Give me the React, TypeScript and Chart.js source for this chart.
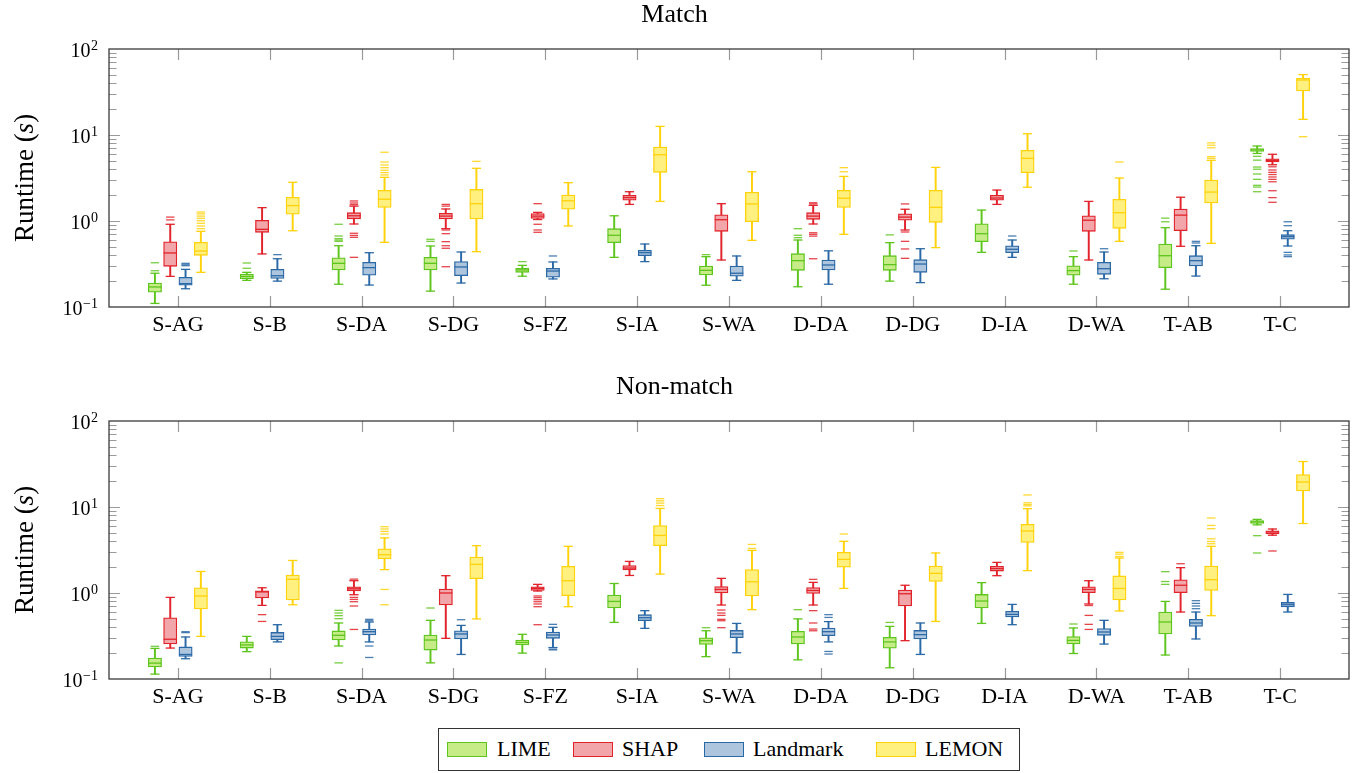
import React, { useEffect, useRef } from 'react';
import { Chart, registerables } from 'chart.js';

Chart.register(...registerables);

const FONT = "'Liberation Serif', 'Times New Roman', serif";

const categories = ['S-AG', 'S-B', 'S-DA', 'S-DG', 'S-FZ', 'S-IA', 'S-WA', 'D-DA', 'D-DG', 'D-IA', 'D-WA', 'T-AB', 'T-C'];
const seriesNames = ['LIME', 'SHAP', 'Landmark', 'LEMON'];
const lineColors = ['#5ec51e', '#e1232b', '#2b69a6', '#ffd20a'];
const fillColors = ['#c5ec87', '#f2a6a9', '#adc6de', '#fff07f'];
const yTickValues = [0.1, 1, 10, 100];

// Box statistics per category: [lower whisker, Q1, median, Q3, upper whisker]
const matchLime = [
  [0.110, 0.149, 0.171, 0.190, 0.247], [0.204, 0.213, 0.227, 0.242, 0.253], [0.184, 0.27, 0.322, 0.374, 0.516],
  [0.153, 0.27, 0.322, 0.378, 0.512], [0.228, 0.253, 0.27, 0.282, 0.305], [0.378, 0.56, 0.682, 0.814, 1.15],
  [0.179, 0.236, 0.267, 0.30, 0.385], [0.172, 0.267, 0.346, 0.417, 0.601], [0.20, 0.267, 0.311, 0.395, 0.56],
  [0.432, 0.575, 0.712, 0.93, 1.34], [0.184, 0.234, 0.265, 0.302, 0.385], [0.161, 0.287, 0.395, 0.54, 0.836],
  [6.1, 6.45, 6.7, 6.93, 7.45],
];
const matchLimeOutliers = [
  [0.264, 0.327], [0.282, 0.325], [0.58, 0.60, 0.623, 0.669, 0.916], [0.58, 0.613], [0.337], [], [0.406],
  [0.64, 0.682, 0.814], [0.69], [], [0.448], [0.98, 1.08],
  [2.19, 2.48, 2.6, 3.05, 3.52, 4.0, 4.24, 5.1, 5.65],
];
const matchShap = [
  [0.227, 0.297, 0.425, 0.574, 0.916], [0.414, 0.739, 0.80, 1.02, 1.43], [0.923, 1.06, 1.15, 1.25, 1.49],
  [0.814, 1.055, 1.14, 1.23, 1.38], [1.04, 1.07, 1.14, 1.22, 1.26], [1.56, 1.75, 1.87, 1.99, 2.19],
  [0.352, 0.759, 1.035, 1.18, 1.59], [0.923, 1.046, 1.14, 1.25, 1.52], [0.786, 1.02, 1.11, 1.21, 1.37],
  [1.56, 1.75, 1.85, 1.99, 2.29], [0.352, 0.759, 1.02, 1.15, 1.69], [0.508, 0.771, 1.17, 1.38, 1.89],
  [4.51, 4.85, 5.07, 5.3, 5.97],
];
const matchShapOutliers = [
  [1.03, 1.11], [], [0.378, 0.646, 0.68, 0.72, 1.55, 1.62, 1.71],
  [0.294, 0.482, 0.516, 0.575, 0.712, 0.786, 1.49, 1.56], [0.739, 0.786, 0.916, 1.59], [], [],
  [0.364, 0.667, 0.70, 0.73, 1.58, 1.63], [0.368, 0.473, 0.58, 0.745, 1.58], [], [], [],
  [1.65, 1.87, 2.25, 2.86, 3.05, 3.25, 3.47, 3.68, 3.92, 4.27],
];
const matchLandmark = [
  [0.163, 0.179, 0.187, 0.221, 0.274], [0.20, 0.215, 0.231, 0.274, 0.364], [0.18, 0.234, 0.287, 0.331, 0.428],
  [0.19, 0.231, 0.292, 0.337, 0.436], [0.212, 0.222, 0.262, 0.282, 0.334], [0.337, 0.395, 0.428, 0.456, 0.54],
  [0.204, 0.228, 0.247, 0.30, 0.392], [0.184, 0.27, 0.308, 0.352, 0.45], [0.192, 0.253, 0.316, 0.355, 0.476],
  [0.378, 0.428, 0.469, 0.516, 0.601], [0.213, 0.24, 0.279, 0.331, 0.436], [0.229, 0.30, 0.346, 0.395, 0.516],
  [0.512, 0.613, 0.657, 0.693, 0.771],
];
const matchLandmarkOutliers = [
  [0.302, 0.31, 0.322], [0.406], [], [], [0.392], [], [], [], [], [0.669], [0.476], [0.555, 0.58],
  [0.385, 0.403, 0.432, 0.882, 0.98],
];
const matchLemon = [
  [0.253, 0.399, 0.448, 0.565, 0.759], [0.77, 1.2, 1.51, 1.89, 2.82], [0.565, 1.44, 1.79, 2.27, 3.22],
  [0.44, 1.055, 1.59, 2.33, 4.1], [0.875, 1.37, 1.72, 2.0, 2.79], [1.69, 3.68, 5.9, 7.25, 12.6],
  [0.596, 0.98, 1.58, 2.16, 3.74], [0.70, 1.44, 1.84, 2.27, 3.3], [0.49, 0.965, 1.44, 2.27, 4.2],
  [2.47, 3.65, 5.35, 6.64, 10.35], [0.58, 0.822, 1.25, 1.79, 3.16], [0.55, 1.62, 2.17, 3.0, 5.08],
  [15.2, 32.6, 43.6, 45.7, 50.4],
];
const matchLemonOutliers = [
  [0.814, 0.875, 0.94, 1.008, 1.075, 1.14, 1.21, 1.27], [], [3.43, 3.65, 3.89, 4.17, 4.48, 4.85, 6.3], [4.94],
  [], [], [], [3.74, 4.17], [], [], [4.85], [5.35, 5.6, 7.1, 7.6, 8.1], [9.56],
];

const nonMatchLime = [
  [0.114, 0.138, 0.153, 0.175, 0.227], [0.208, 0.229, 0.249, 0.27, 0.313], [0.242, 0.284, 0.322, 0.362, 0.448],
  [0.154, 0.217, 0.284, 0.325, 0.481], [0.20, 0.249, 0.266, 0.284, 0.331], [0.455, 0.669, 0.798, 0.948, 1.29],
  [0.182, 0.252, 0.279, 0.302, 0.364], [0.167, 0.255, 0.308, 0.358, 0.50], [0.135, 0.228, 0.27, 0.305, 0.409],
  [0.443, 0.669, 0.807, 0.963, 1.32], [0.198, 0.255, 0.281, 0.311, 0.392], [0.19, 0.334, 0.46, 0.601, 0.798],
  [6.2, 6.43, 6.7, 6.93, 7.18],
];
const nonMatchLimeOutliers = [
  [0.24], [], [0.154, 0.503, 0.545, 0.585, 0.628], [0.669], [], [], [0.395], [0.64], [0.455], [], [0.436],
  [1.26, 1.36, 1.77], [2.92, 4.64],
];
const nonMatchShap = [
  [0.229, 0.255, 0.29, 0.516, 0.889], [0.718, 0.875, 1.03, 1.06, 1.15], [0.955, 1.06, 1.12, 1.18, 1.39],
  [0.297, 0.725, 1.0, 1.11, 1.59], [1.055, 1.07, 1.13, 1.18, 1.26], [1.6, 1.85, 1.95, 2.08, 2.33],
  [0.725, 1.0, 1.1, 1.19, 1.48], [0.725, 0.989, 1.07, 1.16, 1.33], [0.279, 0.706, 0.98, 1.08, 1.23],
  [1.59, 1.8, 1.92, 2.04, 2.27], [0.745, 1.01, 1.1, 1.18, 1.39], [0.601, 1.01, 1.23, 1.42, 1.97],
  [4.7, 4.85, 5.12, 5.3, 5.55],
];
const nonMatchShapOutliers = [
  [], [0.467, 0.56], [0.377, 0.706, 0.792, 0.842, 0.889, 1.45], [],
  [0.428, 0.693, 0.745, 0.792, 0.836, 0.882, 0.923], [], [0.395, 0.476, 0.494, 0.549, 0.585, 0.634],
  [0.364, 0.381, 0.448, 0.623, 1.44], [], [], [0.377, 0.432, 0.549, 0.715], [2.19], [3.08],
];
const nonMatchLandmark = [
  [0.172, 0.183, 0.193, 0.236, 0.308], [0.27, 0.287, 0.313, 0.348, 0.428], [0.27, 0.325, 0.355, 0.381, 0.46],
  [0.193, 0.292, 0.334, 0.364, 0.42], [0.232, 0.297, 0.325, 0.352, 0.399], [0.388, 0.476, 0.516, 0.56, 0.623],
  [0.202, 0.302, 0.334, 0.367, 0.443], [0.27, 0.319, 0.355, 0.392, 0.465], [0.193, 0.292, 0.328, 0.367, 0.448],
  [0.428, 0.526, 0.564, 0.612, 0.737], [0.255, 0.322, 0.352, 0.385, 0.481], [0.292, 0.409, 0.448, 0.494, 0.601],
  [0.601, 0.688, 0.731, 0.777, 0.963],
];
const nonMatchLandmarkOutliers = [
  [0.346, 0.355], [], [0.178, 0.242, 0.476, 0.494], [0.489], [0.218, 0.222, 0.432], [], [],
  [0.195, 0.209, 0.52, 0.56], [], [], [], [0.657, 0.706, 0.757, 0.814], [],
];
const nonMatchLemon = [
  [0.313, 0.652, 0.923, 1.15, 1.78], [0.73, 0.829, 1.44, 1.62, 2.39], [1.87, 2.5, 2.79, 3.27, 4.37],
  [0.5, 1.47, 2.15, 2.62, 3.55], [0.693, 0.93, 1.39, 2.04, 3.49], [1.66, 3.55, 4.67, 6.1, 9.63],
  [0.64, 0.923, 1.35, 1.87, 3.13], [1.13, 2.0, 2.46, 2.97, 3.99], [0.467, 1.36, 1.69, 2.06, 2.92],
  [1.82, 3.88, 5.26, 6.28, 9.56], [0.618, 0.829, 1.13, 1.58, 2.55], [0.545, 1.07, 1.43, 2.06, 3.49],
  [6.43, 15.4, 19.5, 23.9, 33.8],
];
const nonMatchLemonOutliers = [
  [], [], [0.73, 1.1, 4.85, 5.2, 5.55, 5.9], [], [], [10.4, 11.1, 11.8, 12.5], [3.3, 3.67], [4.85], [],
  [10.3, 10.7, 11.2, 13.8], [2.66, 2.83, 2.97], [3.74, 3.97, 4.27, 5.6, 6.1, 7.45], [],
];

// Horizontal spacing of the four boxes inside one category (in category units)
const SLOT = 1 / 6;

function buildDatasets(stats: number[][][], outliers: number[][][]) {
  const ds: any[] = [];
  stats.forEach((series, s) => {
    const off = (s - 1.5) * SLOT;
    const line = lineColors[s];
    const fill = fillColors[s];
    const pointCommon = {
      type: 'scatter',
      pointStyle: 'line',
      borderColor: line,
      pointBorderColor: line,
      pointBorderWidth: 1.3,
      pointHoverBorderWidth: 1.3,
      order: 1,
    };
    ds.push({
      type: 'bar',
      label: seriesNames[s] + ' whiskers',
      data: series.map((b, i) => ({ x: i + off, y: [b[0], b[4]] })),
      backgroundColor: line,
      borderWidth: 0,
      barThickness: 1.3,
      grouped: false,
      order: 3,
    });
    ds.push({
      type: 'bar',
      label: seriesNames[s],
      data: series.map((b, i) => ({ x: i + off, y: [b[1], b[3]] })),
      backgroundColor: fill,
      borderColor: line,
      borderWidth: 1.3,
      borderSkipped: false,
      barThickness: 13.3,
      grouped: false,
      order: 2,
    });
    ds.push({
      ...pointCommon,
      label: seriesNames[s] + ' median',
      data: series.map((b, i) => ({ x: i + off, y: b[2] })),
      pointRadius: 6.6,
      pointHoverRadius: 6.6,
    });
    ds.push({
      ...pointCommon,
      label: seriesNames[s] + ' caps',
      data: series.flatMap((b, i) => [{ x: i + off, y: b[0] }, { x: i + off, y: b[4] }]),
      pointRadius: 4.6,
      pointHoverRadius: 4.6,
    });
    ds.push({
      ...pointCommon,
      label: seriesNames[s] + ' outliers',
      data: outliers[s].flatMap((o, i) => o.map((v) => ({ x: i + off, y: v }))),
      pointRadius: 4.2,
      pointHoverRadius: 4.2,
      pointBorderColor: line + 'd9',
      borderColor: line + 'd9',
    });
  });
  return ds;
}

// pgfplots-style frame with inward ticks on all four sides
const frameTicks = {
  id: 'frameTicks',
  beforeDatasetsDraw(chart: any) {
    const { ctx, chartArea: a, scales } = chart;
    const x = scales.x;
    const y = scales.y;
    ctx.save();
    ctx.strokeStyle = '#9a9a9a';
    ctx.lineWidth = 1.2;
    ctx.beginPath();
    categories.forEach((_, i) => {
      const px = Math.round(x.getPixelForValue(i)) + 0.5;
      ctx.moveTo(px, a.top);
      ctx.lineTo(px, a.top + 11);
      ctx.moveTo(px, a.bottom);
      ctx.lineTo(px, a.bottom - 11);
    });
    [0.1, 1, 10].forEach((d) => {
      for (let k = 1; k <= 9; k++) {
        const v = k * d;
        if (v <= y.min) continue;
        const py = Math.round(y.getPixelForValue(v)) + 0.5;
        const len = k === 1 ? 11 : 7.5;
        ctx.moveTo(a.left, py);
        ctx.lineTo(a.left + len, py);
        ctx.moveTo(a.right, py);
        ctx.lineTo(a.right - len, py);
      }
    });
    ctx.stroke();
    ctx.strokeStyle = '#3a3a3a';
    ctx.lineWidth = 1.3;
    ctx.strokeRect(a.left, a.top, a.right - a.left, a.bottom - a.top);
    ctx.restore();
  },
};

// Decade labels (10 with a raised exponent) and the rotated axis title
const axisText = {
  id: 'axisText',
  afterDraw(chart: any) {
    const { ctx, chartArea: a, scales } = chart;
    const y = scales.y;
    ctx.save();
    ctx.fillStyle = '#000';
    ctx.textBaseline = 'alphabetic';
    ctx.textAlign = 'right';
    y.ticks.forEach((t: any) => {
      const py = y.getPixelForValue(t.value);
      const exp = String(Math.round(Math.log10(t.value))).replace('-', '\u2212');
      ctx.font = `14px ${FONT}`;
      const ew = ctx.measureText(exp).width;
      const right = a.left - 11;
      ctx.fillText(exp, right, py + 1);
      ctx.font = `20px ${FONT}`;
      ctx.fillText('10', right - ew - 0.5, py + 8);
    });

    const parts: [string, string][] = [['Runtime (', 'normal'], ['s', 'italic'], [')', 'normal']];
    ctx.translate(a.left - 76, (a.top + a.bottom) / 2);
    ctx.rotate(-Math.PI / 2);
    ctx.textAlign = 'left';
    let total = 0;
    parts.forEach(([txt, style]) => {
      ctx.font = `${style} 27px ${FONT}`;
      total += ctx.measureText(txt).width;
    });
    let cx = -total / 2;
    parts.forEach(([txt, style]) => {
      ctx.font = `${style} 27px ${FONT}`;
      ctx.fillText(txt, cx, 0);
      cx += ctx.measureText(txt).width;
    });
    ctx.restore();
  },
};

function BoxPanel({ title, stats, outliers, top }: { title: string; stats: number[][][]; outliers: number[][][]; top: number }) {
  const ref = useRef<HTMLCanvasElement | null>(null);
  useEffect(() => {
    if (!ref.current) return;
    const chart = new Chart(ref.current, {
      type: 'bar',
      data: { datasets: buildDatasets(stats, outliers) },
      options: {
        responsive: false,
        maintainAspectRatio: false,
        animation: false,
        events: [],
        layout: { padding: { top: 2, right: 9, bottom: 0, left: 0 } },
        plugins: {
          legend: { display: false },
          tooltip: { enabled: false },
          title: {
            display: true,
            text: title,
            color: '#000',
            font: { family: FONT, size: 26, weight: 'normal', lineHeight: 1 },
            padding: { top: 0, bottom: 21 },
          },
        },
        scales: {
          x: {
            type: 'linear',
            min: -0.75,
            max: categories.length - 0.25,
            offset: false,
            grid: { display: false, drawTicks: false, offset: false },
            border: { display: false },
            afterBuildTicks: (scale: any) => {
              scale.ticks = categories.map((_, i) => ({ value: i }));
            },
            afterFit: (scale: any) => {
              scale.height = 65;
            },
            ticks: {
              autoSkip: false,
              maxRotation: 0,
              padding: 5,
              color: '#000',
              font: { family: FONT, size: 22 },
              callback: (v: any) => categories[v] ?? '',
            },
          },
          y: {
            type: 'logarithmic',
            min: 0.1,
            max: 100,
            grid: { display: false, drawTicks: false },
            border: { display: false },
            ticks: { display: false },
            afterBuildTicks: (scale: any) => {
              scale.ticks = yTickValues.map((v) => ({ value: v }));
            },
            afterFit: (scale: any) => {
              scale.width = 109;
            },
          },
        },
      } as any,
      plugins: [frameTicks, axisText],
    });
    return () => chart.destroy();
  }, [title, stats, outliers]);
  return (
    <div style={{ position: 'absolute', left: 0, top, width: 1358, height: 372 }}>
      <canvas ref={ref} width={1358} height={372} style={{ display: 'block' }} />
    </div>
  );
}

const legendSwatchLeft = [8, 134, 265, 437];
const legendTextLeft = [58, 183, 314, 486];

function Legend() {
  return (
    <div
      style={{
        position: 'absolute',
        left: 438,
        top: 728,
        width: 582,
        height: 43,
        boxSizing: 'border-box',
        border: '1.3px solid #333',
        background: '#fff',
        fontFamily: FONT,
        fontSize: 22,
        color: '#000',
      }}
    >
      {seriesNames.map((n, s) => (
        <React.Fragment key={n}>
          <div
            style={{
              position: 'absolute',
              left: legendSwatchLeft[s],
              top: 13,
              width: 40,
              height: 15,
              boxSizing: 'border-box',
              background: fillColors[s],
              border: `1.3px solid ${lineColors[s]}`,
            }}
          />
          <div style={{ position: 'absolute', left: legendTextLeft[s], top: 9, lineHeight: '22px', whiteSpace: 'nowrap' }}>{n}</div>
        </React.Fragment>
      ))}
    </div>
  );
}

const matchStats = [matchLime, matchShap, matchLandmark, matchLemon];
const matchOutliers = [matchLimeOutliers, matchShapOutliers, matchLandmarkOutliers, matchLemonOutliers];
const nonMatchStats = [nonMatchLime, nonMatchShap, nonMatchLandmark, nonMatchLemon];
const nonMatchOutliers = [nonMatchLimeOutliers, nonMatchShapOutliers, nonMatchLandmarkOutliers, nonMatchLemonOutliers];

export default function App() {
  return (
    <div style={{ position: 'absolute', left: 0, top: 0, width: 1358, height: 773, background: '#fff', overflow: 'hidden' }}>
      <BoxPanel title="Match" stats={matchStats} outliers={matchOutliers} top={0} />
      <BoxPanel title="Non-match" stats={nonMatchStats} outliers={nonMatchOutliers} top={372} />
      <Legend />
    </div>
  );
}
